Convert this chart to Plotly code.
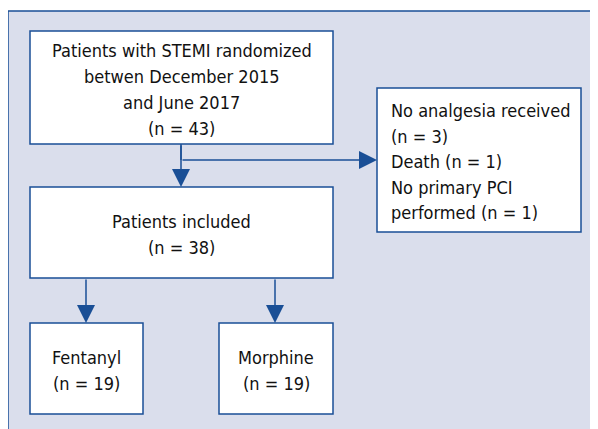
import plotly.graph_objects as go

# Flowchart content
box_lines = [
    ["Patients with STEMI randomized", "betwen December 2015", "and June 2017"],
    ["Patients included"],
    ["Fentanyl"],
    ["Morphine"],
]
box_counts = [43, 38, 19, 19]
excl_lines = ["No analgesia received", "(n = {})", "Death (n = {})", "No primary PCI", "performed (n = {})"]
excl_counts = [3, 1, 1]

# layout geometry (pixels, page coordinates)
W, H = 598, 429
OFF = 8  # default page body margin
LINE = "#1a4f96"
BG = "#dadeec"
FONT = "DejaVu Sans Condensed, Liberation Sans Narrow, Arial Narrow, Liberation Sans"
FS = 18
LS = 26

boxes = [
    (30, 31, 333, 144),
    (30, 187, 333, 278),
    (30, 323, 143, 414),
    (219, 323, 333, 414),
]
excl_box = (377, 88, 581, 232)

fig = go.Figure()
shapes = []
shapes.append(dict(type="rect", xref="x", yref="y", x0=8, y0=11, x1=W + 30, y1=H + 30,
                   fillcolor=BG, line=dict(color=LINE, width=1.5), layer="below"))
for (x0, y0, x1, y1) in boxes + [excl_box]:
    shapes.append(dict(type="rect", xref="x", yref="y", x0=x0, y0=y0, x1=x1, y1=y1,
                       fillcolor="white", line=dict(color=LINE, width=1.5), layer="below"))
shapes.append(dict(type="line", xref="x", yref="y", x0=181, y0=144, x1=181, y1=160,
                   line=dict(color=LINE, width=1.5)))

annotations = []
txtfont = dict(family=FONT, size=FS, color="#111111")
for (x0, y0, x1, y1), lines, n in zip(boxes, box_lines, box_counts):
    all_lines = lines + [f"(n = {n})"]
    cy = (y0 + y1) / 2
    k = len(all_lines)
    for i, t in enumerate(all_lines):
        annotations.append(dict(x=(x0 + x1) / 2, y=cy + (i - (k - 1) / 2) * LS + 2, xref="x", yref="y",
                                text=t, showarrow=False, font=txtfont,
                                xanchor="center", yanchor="middle"))
cnt = iter(excl_counts)
ex_texts = [t.format(next(cnt)) if "{}" in t else t for t in excl_lines]
cy = (excl_box[1] + excl_box[3]) / 2
k = len(ex_texts)
for i, t in enumerate(ex_texts):
    annotations.append(dict(x=389, y=cy + (i - (k - 1) / 2) * 25.5 + 1.5, xref="x", yref="y",
                            text=t, showarrow=False, font=txtfont,
                            xanchor="left", yanchor="middle"))

arrows = [
    ((181, 144), (181, 187)),
    ((181, 160), (377, 160)),
    ((86, 278), (86, 323)),
    ((275, 278), (275, 323)),
]
for (ax_, ay_), (x_, y_) in arrows:
    annotations.append(dict(x=x_, y=y_, ax=ax_, ay=ay_, xref="x", yref="y", axref="x", ayref="y",
                            showarrow=True, arrowhead=2, arrowsize=2.4, arrowwidth=1.5,
                            arrowcolor=LINE, text="", standoff=0))

fig.update_layout(
    width=W, height=H,
    margin=dict(l=0, r=0, t=0, b=0),
    paper_bgcolor="white", plot_bgcolor="white",
    xaxis=dict(range=[OFF, W + OFF], visible=False, fixedrange=True),
    yaxis=dict(range=[H + OFF, OFF], visible=False, fixedrange=True),
    shapes=shapes, annotations=annotations, showlegend=False,
)
fig.write_html("out.html")
